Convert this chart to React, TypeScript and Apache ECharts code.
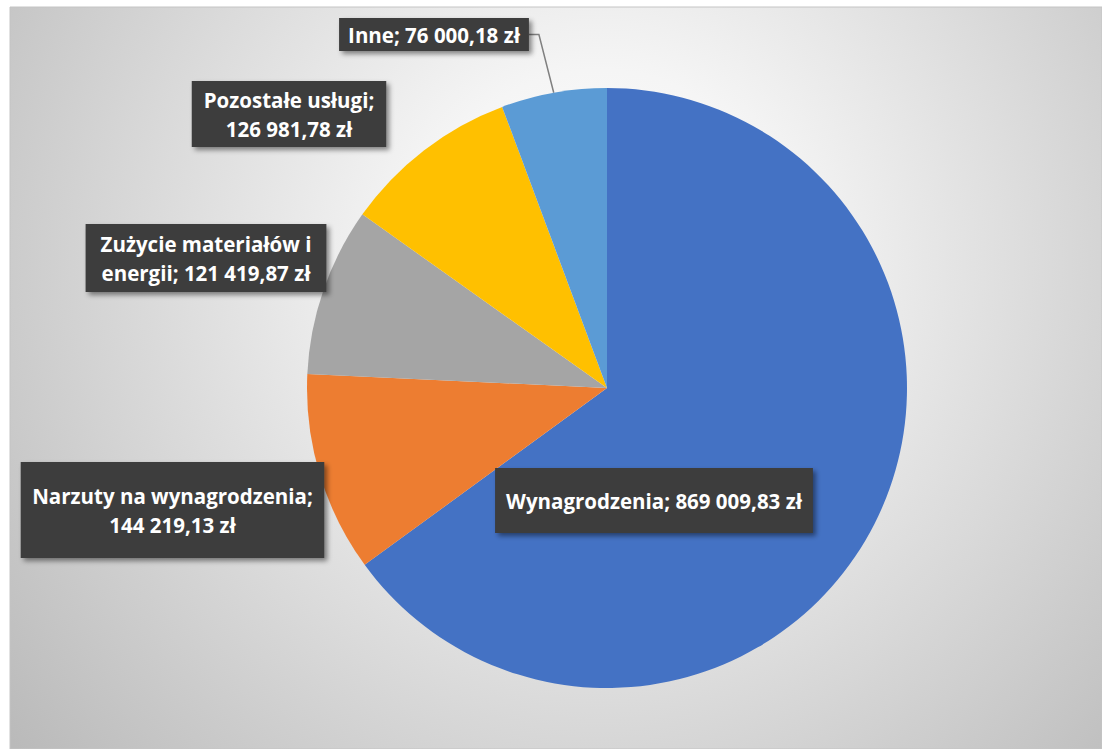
import React, { useEffect, useRef } from "react";
import * as echarts from "echarts";

const categories = [
  "Wynagrodzenia",
  "Narzuty na wynagrodzenia",
  "Zużycie materiałów i energii",
  "Pozostałe usługi",
  "Inne",
];
const values = [869009.83, 144219.13, 121419.87, 126981.78, 76000.18];
const colors = ["#4472C4", "#ED7D31", "#A5A5A5", "#FFC000", "#5B9BD5"];
// break label after N words (0 = single line)
const breakAfterWords = [0, 3, 3, 2, 0];

// label box layout (center x, center y, padding [v, h])
const labelCenters: number[][] = [
  [654, 500.5],
  [172.5, 510],
  [206, 258],
  [289, 114],
  [434, 34.5],
];
const labelPaddings: number[][] = [
  [18, 11],
  [19, 11.5],
  [5, 15],
  [4, 12],
  [2, 9],
];

function fmtPL(v: number): string {
  const [int, dec] = v.toFixed(2).split(".");
  const withSpaces = int.replace(/\B(?=(\d{3})+(?!\d))/g, " ");
  return withSpaces + "," + dec;
}

function labelText(i: number): string {
  const full = categories[i] + "; " + fmtPL(values[i]) + " zł";
  const n = breakAfterWords[i];
  if (!n) return full;
  const words = full.split(" ");
  return words.slice(0, n).join(" ") + "\n" + words.slice(n).join(" ");
}

export default function App() {
  const ref = useRef<HTMLDivElement>(null);
  useEffect(() => {
    document.body.style.margin = "0";
    const chart = echarts.init(ref.current!, null, { renderer: "svg" });
    const option: any = {
      animation: false,
      graphic: [
        {
          type: "rect",
          z: -10,
          silent: true,
          shape: { x: 10, y: 7, width: 1092, height: 742 },
          style: {
            fill: {
              type: "radial",
              x: 600,
              y: 260,
              r: 760,
              global: true,
              colorStops: [
                { offset: 0, color: "#ffffff" },
                { offset: 0.25, color: "#f5f5f5" },
                { offset: 1, color: "#bababa" },
              ],
            },
            stroke: "#c4c4c4",
            lineWidth: 1,
          },
        },
      ],
      series: [
        {
          type: "pie",
          center: [607, 388],
          radius: 300,
          startAngle: 90,
          clockwise: true,
          avoidLabelOverlap: false,
          itemStyle: { borderWidth: 0 },
          emphasis: { disabled: true },
          label: {
            show: true,
            position: "outside",
            formatter: (p: any) => labelText(p.dataIndex),
            color: "#ffffff",
            fontFamily: "Open Sans",
            fontWeight: "bold",
            fontSize: 20.5,
            lineHeight: 29,
            align: "center",
            backgroundColor: "#3c3c3c",
            shadowColor: "rgba(0,0,0,0.45)",
            shadowBlur: 5,
            shadowOffsetX: 3,
            shadowOffsetY: 3,
          },
          labelLine: {
            show: false,
            lineStyle: { color: "#808080", width: 1.5 },
          },
          labelLayout: (params: any) => {
            const i = params.dataIndex;
            const [cx, cy] = labelCenters[i];
            const res: any = {
              x: cx,
              y: cy,
              align: "center",
              verticalAlign: "middle",
            };
            if (i === 4 && params.labelLinePoints) {
              const p0 = params.labelLinePoints[0];
              const right = cx + params.labelRect.width / 2;
              res.labelLinePoints = [p0, [right + 10, cy], [right, cy]];
            }
            return res;
          },
          data: categories.map((name, i) => ({
            name,
            value: values[i],
            itemStyle: { color: colors[i] },
            label: { padding: labelPaddings[i] },
            labelLine: { show: i === 4 },
          })),
        },
      ],
    };
    chart.setOption(option);
    return () => chart.dispose();
  }, []);
  return <div ref={ref} style={{ width: 1102, height: 749 }} />;
}
